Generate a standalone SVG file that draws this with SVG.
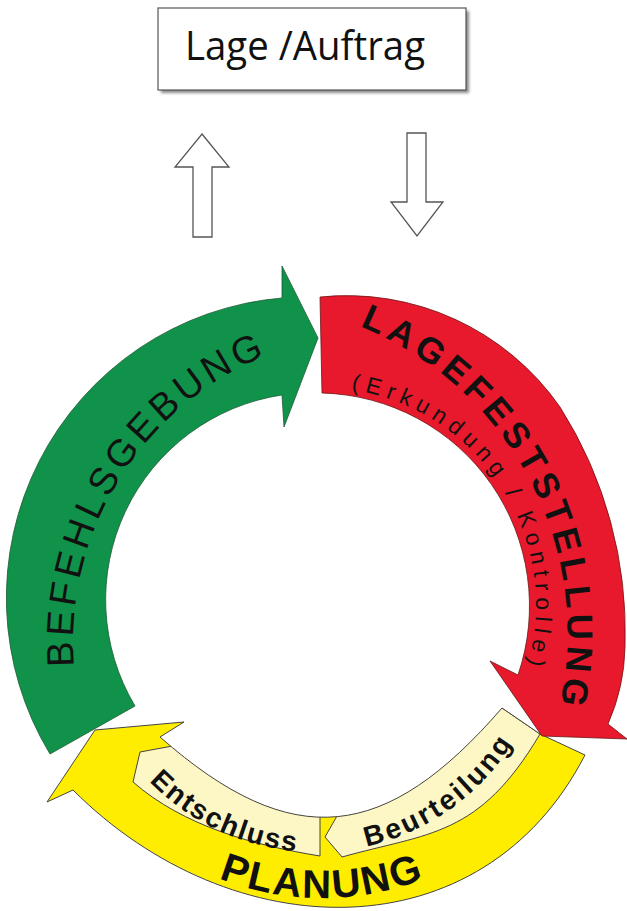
<svg xmlns="http://www.w3.org/2000/svg" xmlns:xlink="http://www.w3.org/1999/xlink" width="627" height="911" viewBox="0 0 627 911">
  <defs>
    <style>
      .lbl { font-family: "Liberation Sans", Arial, sans-serif; fill: #111; }
      .b { font-weight: bold; }
      .hollow { fill: #fff; stroke: #555; stroke-width: 1.3; stroke-linejoin: miter; }
      .edge { stroke-linejoin: round; }
    </style>
    <filter id="shadow" x="-10%" y="-20%" width="130%" height="150%">
      <feGaussianBlur stdDeviation="1.6"/>
    </filter>
    <path id="pBef" d="M 82.2 716.7 A 309 309 0 0 1 317.8 339.8"/>
    <path id="pLag" d="M 338.8 318.8 A 331 331 0 0 1 553.0 730.4"/>
    <path id="pErk" d="M 318 387 A 218 218 0 0 1 513.9 700.6"/>
    <path id="pPlan" d="M 161.4 847.3 A 280 280 0 0 0 482.6 847.3"/>
    <path id="pEnt" d="M 126.0 753.1 A 232 232 0 0 0 334.2 851.3"/>
    <path id="pBeu" d="M 340.2 850.7 A 232 232 0 0 0 526.3 718.0"/>
    <clipPath id="yClip">
      <path d="M 502 708 L 540 734 L 585 755 C 482 955 232 949 73 790 L 47 802 L 95 730 L 184 722 L 160 737 C 293 854 386 842 502 708 Z"/>
    </clipPath>
  </defs>

  <rect x="0" y="0" width="627" height="911" fill="#ffffff"/>

  <g id="node-lage-auftrag">
    <rect x="161" y="11" width="308" height="82" fill="#8a8a8a" filter="url(#shadow)"/>
    <rect x="158" y="8" width="308" height="82" fill="#ffffff" stroke="#555" stroke-width="1.2"/>
    <text x="185" y="60" font-size="40" textLength="240" lengthAdjust="spacingAndGlyphs" style="font-family:'Open Sans','Liberation Sans',sans-serif;fill:#111">Lage /Auftrag</text>
  </g>

  <g id="connectors">
    <path class="hollow" d="M 202 134 L 229 167 L 212 167 L 212 237 L 193 237 L 193 167 L 175 167 Z"/>
    <path class="hollow" d="M 407 133 L 426 133 L 426 202 L 443 202 L 417 236 L 391 202 L 407 202 Z"/>
  </g>

  <g id="node-planung">
    <path class="edge" d="M 502 708 L 540 734 L 585 755 C 482 955 232 949 73 790 L 47 802 L 95 730 L 184 722 L 160 737 C 293 854 386 842 502 708 Z" fill="#ffed00"/>
    <g id="node-entschluss">
      <path class="edge" clip-path="url(#yClip)" d="M 133 782 L 140 752 L 178 745 L 200 690 L 320 690 L 320 856 C 254 845.3 183.5 826.2 133 782 Z" fill="#fdf7c6" stroke="#444" stroke-width="1"/>
      <text class="lbl b" font-size="28" letter-spacing="1.8"><textPath href="#pEnt" xlink:href="#pEnt" startOffset="50%" text-anchor="middle">Entschluss</textPath></text>
    </g>
    <g id="node-beurteilung">
      <path class="edge" clip-path="url(#yClip)" d="M 540 734 C 479 837.3 428.7 832.7 342 857 L 325 837 L 337 816 L 350 740 L 464 682 L 502 708 Z" fill="#fdf7c6" stroke="#444" stroke-width="1"/>
      <text class="lbl b" font-size="28" letter-spacing="2.7"><textPath href="#pBeu" xlink:href="#pBeu" startOffset="50%" text-anchor="middle">Beurteilung</textPath></text>
    </g>
    <path class="edge" d="M 502 708 L 540 734 L 585 755 C 482 955 232 949 73 790 L 47 802 L 95 730 L 184 722 L 160 737 C 293 854 386 842 502 708 Z" fill="none" stroke="#444" stroke-width="1"/>
    <text class="lbl b" font-size="40" letter-spacing="2"><textPath href="#pPlan" xlink:href="#pPlan" startOffset="50%" text-anchor="middle">PLANUNG</textPath></text>
  </g>

  <g id="node-befehlsgebung">
    <path class="edge" d="M 50 754 A 301 301 0 0 1 282 298 L 282 266 L 318 338 L 284 427 L 282 395 A 207 207 0 0 0 135 706 Z" fill="#10924a" stroke="#1d5a33" stroke-width="0.8"/>
    <text class="lbl" font-size="38" letter-spacing="4.3"><textPath href="#pBef" xlink:href="#pBef" startOffset="50%" text-anchor="middle">BEFEHLSGEBUNG</textPath></text>
  </g>

  <g id="node-lagefeststellung">
    <path class="edge" d="M 320 297 A 260 260 0 0 1 560 407 A 420 420 0 0 1 625 647 A 200 200 0 0 1 608 724 L 627 739 L 542 736 L 490 661 L 518 675 A 213 213 0 0 0 322 393 Z" fill="#e8192c" stroke="#6a1515" stroke-width="0.8"/>
    <text class="lbl b" font-size="36" letter-spacing="5.2"><textPath href="#pLag" xlink:href="#pLag" startOffset="50%" text-anchor="middle">LAGEFESTSTELLUNG</textPath></text>
    <text class="lbl" font-size="23" letter-spacing="6"><textPath href="#pErk" xlink:href="#pErk" startOffset="50%" text-anchor="middle">(Erkundung / Kontrolle)</textPath></text>
  </g>
</svg>
